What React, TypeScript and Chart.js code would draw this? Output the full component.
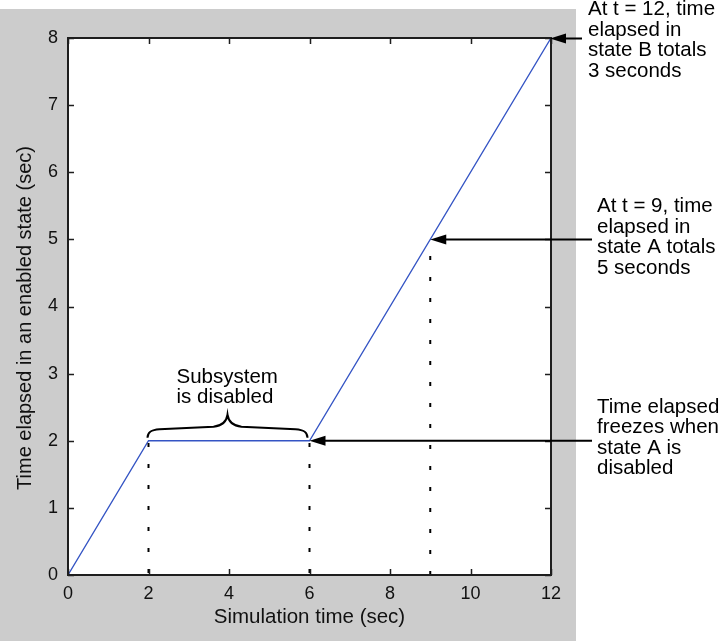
import React, { useEffect, useRef } from "react";
import { Chart, registerables } from "chart.js";

Chart.register(...registerables);

// ---- data ----
const simTime = [0, 2, 6, 12];
const elapsedTime = [0, 2, 2, 8];
const markerTimes = [2, 6, 9];
const markerValues = [2, 2, 5];
const markerDashOffsets = [19, 19, 0];
const xTickValues = [0, 2, 4, 6, 8, 10, 12];
const yTickValues = [0, 1, 2, 3, 4, 5, 6, 7, 8];
const xTitle = "Simulation time (sec)";
const yTitle = "Time elapsed in an enabled state (sec)";
const noteB = ["At t = 12, time", "elapsed in", "state B totals", "3 seconds"];
const noteBPoint = [12, 8];
const noteA = ["At t = 9, time", "elapsed in", "state A totals", "5 seconds"];
const noteAPoint = [9, 5];
const noteFreeze = ["Time elapsed", "freezes when", "state A is", "disabled"];
const noteFreezePoint = [6, 2];
const braceLabel = ["Subsystem", "is disabled"];
const braceSpan = [2, 6];
const braceLevel = 2;

const FONT = '"Liberation Sans", Arial, Helvetica, sans-serif';

function arrow(ctx: CanvasRenderingContext2D, tailX: number, tipX: number, y: number) {
  const head = 16;
  const half = 5;
  ctx.save();
  ctx.strokeStyle = "#000";
  ctx.fillStyle = "#000";
  ctx.lineWidth = 2;
  ctx.beginPath();
  ctx.moveTo(tailX, y);
  ctx.lineTo(tipX + head - 2, y);
  ctx.stroke();
  ctx.beginPath();
  ctx.moveTo(tipX, y);
  ctx.lineTo(tipX + head, y - half);
  ctx.lineTo(tipX + head, y + half);
  ctx.closePath();
  ctx.fill();
  ctx.restore();
}

function textLines(ctx: CanvasRenderingContext2D, lines: string[], x: number, y: number) {
  ctx.save();
  ctx.font = `20.5px ${FONT}`;
  ctx.fillStyle = "#000";
  ctx.textAlign = "left";
  ctx.textBaseline = "alphabetic";
  lines.forEach((l, i) => ctx.fillText(l, x, y + i * 20.5));
  ctx.restore();
}

const decorPlugin = {
  id: "decor",
  beforeDraw(chart: any) {
    const { ctx, chartArea: a } = chart;
    ctx.save();
    ctx.fillStyle = "#ffffff";
    ctx.fillRect(0, 0, chart.width, chart.height);
    ctx.fillStyle = "#cccccc";
    ctx.fillRect(0, 9, 576, 632);
    ctx.fillStyle = "#ffffff";
    ctx.fillRect(a.left, a.top, a.right - a.left, a.bottom - a.top);
    ctx.restore();
  },
  afterDraw(chart: any) {
    const { ctx, chartArea: a, scales } = chart;
    const xs = scales.x;
    const ys = scales.y;
    ctx.save();
    // box
    ctx.strokeStyle = "#1e1e1e";
    ctx.lineWidth = 2;
    ctx.strokeRect(a.left, a.top, a.right - a.left, a.bottom - a.top);
    // inward ticks
    ctx.lineWidth = 1.5;
    const tl = 6;
    ctx.beginPath();
    xTickValues.forEach((v) => {
      const px = Math.round(xs.getPixelForValue(v)) + 0.5;
      ctx.moveTo(px, a.bottom);
      ctx.lineTo(px, a.bottom - tl);
      ctx.moveTo(px, a.top);
      ctx.lineTo(px, a.top + tl);
    });
    yTickValues.forEach((v) => {
      const py = Math.round(ys.getPixelForValue(v)) + 0.5;
      ctx.moveTo(a.left, py);
      ctx.lineTo(a.left + tl, py);
      ctx.moveTo(a.right, py);
      ctx.lineTo(a.right - tl, py);
    });
    ctx.stroke();

    // y title
    ctx.save();
    ctx.translate(25, 318);
    ctx.rotate(-Math.PI / 2);
    ctx.font = `20px ${FONT}`;
    ctx.fillStyle = "#111";
    ctx.textAlign = "center";
    ctx.textBaseline = "middle";
    ctx.fillText(yTitle, 0, 0);
    ctx.restore();

    // annotations
    const bx = xs.getPixelForValue(noteBPoint[0]);
    const by = ys.getPixelForValue(noteBPoint[1]);
    arrow(ctx, 582, bx - 1, by + 0.5);
    textLines(ctx, noteB, 588, by - 23);

    const ax = xs.getPixelForValue(noteAPoint[0]);
    const ay = ys.getPixelForValue(noteAPoint[1]);
    arrow(ctx, 592, ax, ay);
    textLines(ctx, noteA, 597, ay - 27);

    const fx = xs.getPixelForValue(noteFreezePoint[0]);
    const fy = ys.getPixelForValue(noteFreezePoint[1]);
    arrow(ctx, 592, fx, fy);
    textLines(ctx, noteFreeze, 597, fy - 28);

    // brace
    const x1 = xs.getPixelForValue(braceSpan[0]) - 1;
    const x2 = xs.getPixelForValue(braceSpan[1]) - 2;
    const yb = ys.getPixelForValue(braceLevel);
    const xm = (x1 + x2) / 2;
    ctx.strokeStyle = "#000";
    ctx.lineWidth = 2;
    ctx.beginPath();
    ctx.moveTo(x1, yb - 3);
    ctx.bezierCurveTo(x1, yb - 9, x1 + 4, yb - 11, x1 + 12, yb - 11.5);
    ctx.lineTo(xm - 14, yb - 14);
    ctx.bezierCurveTo(xm - 5, yb - 15, xm - 1, yb - 19, xm, yb - 26);
    ctx.bezierCurveTo(xm + 1, yb - 19, xm + 5, yb - 15, xm + 14, yb - 14);
    ctx.lineTo(x2 - 12, yb - 11.5);
    ctx.bezierCurveTo(x2 - 4, yb - 11, x2, yb - 9, x2, yb - 3);
    ctx.stroke();
    textLines(ctx, braceLabel, xm - 51, yb - 58);
    ctx.restore();
  },
};

export default function App() {
  const ref = useRef<HTMLCanvasElement>(null);
  useEffect(() => {
    const mainData = simTime.map((t, i) => ({ x: t, y: elapsedTime[i] }));
    const markerSets = markerTimes.map((t, i) => ({
      data: [
        { x: t, y: 0 },
        { x: t, y: markerValues[i] },
      ],
      borderColor: "#000",
      borderWidth: 2,
      borderDash: [4, 17],
      borderDashOffset: markerDashOffsets[i],
      borderCapStyle: "butt",
      pointRadius: 0,
      fill: false,
      tension: 0,
    }));
    const chart = new Chart(ref.current as HTMLCanvasElement, {
      type: "line",
      data: {
        datasets: [
          ...markerSets,
          {
            data: mainData,
            borderColor: "rgb(52,84,196)",
            borderWidth: 1.3,
            pointRadius: 0,
            fill: false,
            tension: 0,
          },
        ] as any,
      },
      options: {
        responsive: false,
        devicePixelRatio: 1,
        animation: false,
        layout: { padding: { left: 0, top: 38, right: 168, bottom: 0 } },
        plugins: { legend: { display: false }, tooltip: { enabled: false } },
        scales: {
          x: {
            type: "linear",
            min: 0,
            max: 12,
            afterFit: (s: any) => {
              s.height = 67;
            },
            afterBuildTicks: (s: any) => {
              s.ticks = xTickValues.map((v) => ({ value: v }));
            },
            ticks: {
              font: { family: FONT, size: 18 },
              color: "#111",
              padding: 8,
              maxRotation: 0,
            },
            grid: { display: false, drawTicks: false, tickLength: 0 },
            border: { display: false },
            title: {
              display: true,
              text: xTitle,
              font: { family: FONT, size: 20.5 },
              color: "#111",
              padding: { top: 0, bottom: 12 },
            },
          },
          y: {
            type: "linear",
            min: 0,
            max: 8,
            afterFit: (s: any) => {
              s.width = 68;
            },
            afterBuildTicks: (s: any) => {
              s.ticks = yTickValues.map((v) => ({ value: v }));
            },
            ticks: {
              font: { family: FONT, size: 18 },
              color: "#111",
              padding: 10,
            },
            grid: { display: false, drawTicks: false, tickLength: 0 },
            border: { display: false },
          },
        },
      },
      plugins: [decorPlugin],
    } as any);
    return () => chart.destroy();
  }, []);
  return (
    <div style={{ position: "fixed", left: 0, top: 0, width: 719, height: 642, background: "#fff" }}>
      <canvas ref={ref} width={719} height={642} style={{ display: "block", width: 719, height: 642 }} />
    </div>
  );
}
